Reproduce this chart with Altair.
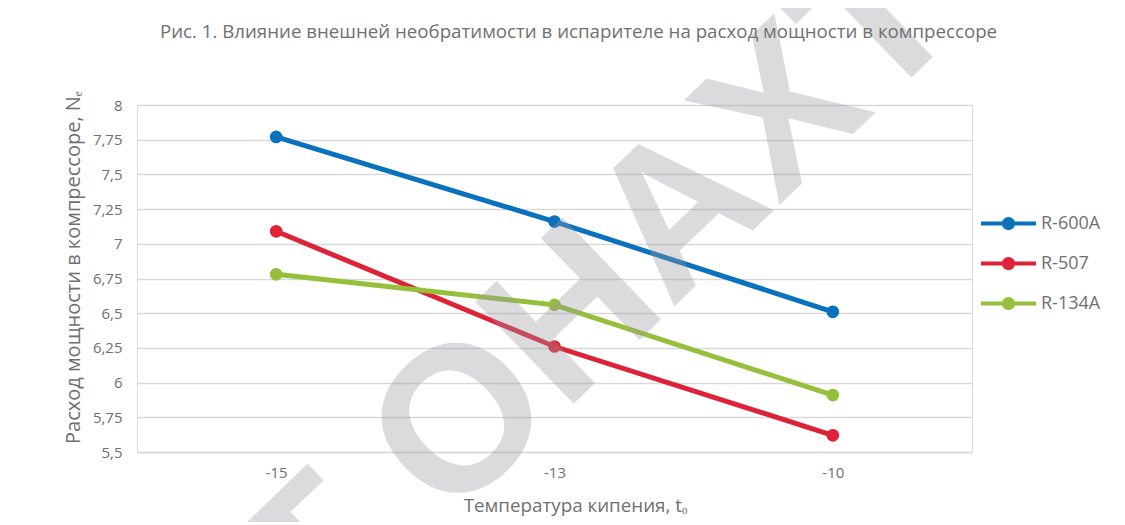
import altair as alt
import pandas as pd

temps = ["-15", "-13", "-10"]
series = ["R-600A", "R-507", "R-134A"]
r600a = [7.77, 7.16, 6.51]
r507 = [7.09, 6.26, 5.62]
r134a = [6.78, 6.56, 5.91]
colors = ["#0a71bd", "#de2237", "#96bf3c"]
y_ticks = [5.5, 5.75, 6, 6.25, 6.5, 6.75, 7, 7.25, 7.5, 7.75, 8]

title_text = "Рис. 1. Влияние внешней необратимости в испарителе на расход мощности в компрессоре"
x_title = "Температура кипения, tₒ"
y_title = "Расход мощности в компрессоре, Nₑ"
watermark = ["Т ОНАХТ"]

rows = []
for name, vals in zip(series, [r600a, r507, r134a]):
    for t, v in zip(temps, vals):
        rows.append({"t": t, "v": v, "s": name})
df = pd.DataFrame(rows)

FONT = "Open Sans"
GREY = "#707070"

x_enc = alt.X(
    "t:N", sort=temps,
    scale=alt.Scale(type="point", padding=0.5),
    axis=alt.Axis(
        title=x_title, labelAngle=0, ticks=False, domain=True,
        domainColor="#d9d9d9", domainWidth=1.3, grid=False,
        labelFont=FONT, labelFontSize=15, labelColor=GREY, labelPadding=13,
        titleFont=FONT, titleFontSize=18.8, titleFontWeight="normal", titleColor=GREY,
        titleX=438, titleY=53, titleBaseline="middle",
    ),
)
y_enc = alt.Y(
    "v:Q",
    scale=alt.Scale(domain=[5.5, 8], nice=False, zero=False),
    axis=alt.Axis(
        title=y_title, values=y_ticks, ticks=False, domain=False,
        grid=True, gridColor="#d9d9d9", gridWidth=1.3,
        labelExpr="replace(toString(datum.value), '.', ',')",
        labelFont=FONT, labelFontSize=15, labelColor=GREY, labelPadding=15,
        titleFont=FONT, titleFontSize=20, titleFontWeight="normal", titleColor=GREY,
        titleX=-64, titleY=162, titleBaseline="middle", titleAngle=270,
    ),
)
color_scale = alt.Scale(domain=series, range=colors)

legend_path = ("M-1,-0.075 L1,-0.075 L1,0.075 L-1,0.075 Z "
               "M0.24,0 A0.24,0.24 0 1,1 -0.24,0 A0.24,0.24 0 1,1 0.24,0 Z")

line_layers = [
    alt.Chart(df).transform_filter(alt.datum.s == name)
    .mark_line(strokeWidth=5, color=c)
    .encode(x=x_enc, y=y_enc)
    for name, c in zip(series, colors)
]
points = alt.Chart(df).mark_point(filled=True, size=160, opacity=1).encode(
    x=x_enc, y=y_enc,
    color=alt.Color(
        "s:N", scale=color_scale, sort=series,
        legend=alt.Legend(
            title=None, orient="none", legendX=843, legendY=90,
            symbolType=legend_path, symbolSize=3025,
            labelFont=FONT, labelFontSize=18, labelColor=GREY,
        ),
    ),
)
wm = alt.Chart(pd.DataFrame({"w": watermark})).mark_text(
    angle=316, fontSize=206, font="Liberation Sans", fontWeight="bold",
    align="center", baseline="middle", color="#9a9aa2", opacity=0.35,
).encode(text="w:N", x=alt.value(462), y=alt.value(188))

chart = alt.layer(*line_layers, points, wm).properties(
    width=835, height=347,
    autosize=alt.AutoSizeParams(type="none"),
    padding={"left": 129, "top": 97, "right": 140, "bottom": 70},
    title=alt.TitleParams(
        title_text, font=FONT, fontSize=18.7, fontWeight="normal", color=GREY,
        anchor="middle", dx=24, dy=137, offset=0,
    ),
).configure_view(stroke=None).configure(background="white")

chart.save("out.html", embed_options={"renderer": "svg", "actions": False})
